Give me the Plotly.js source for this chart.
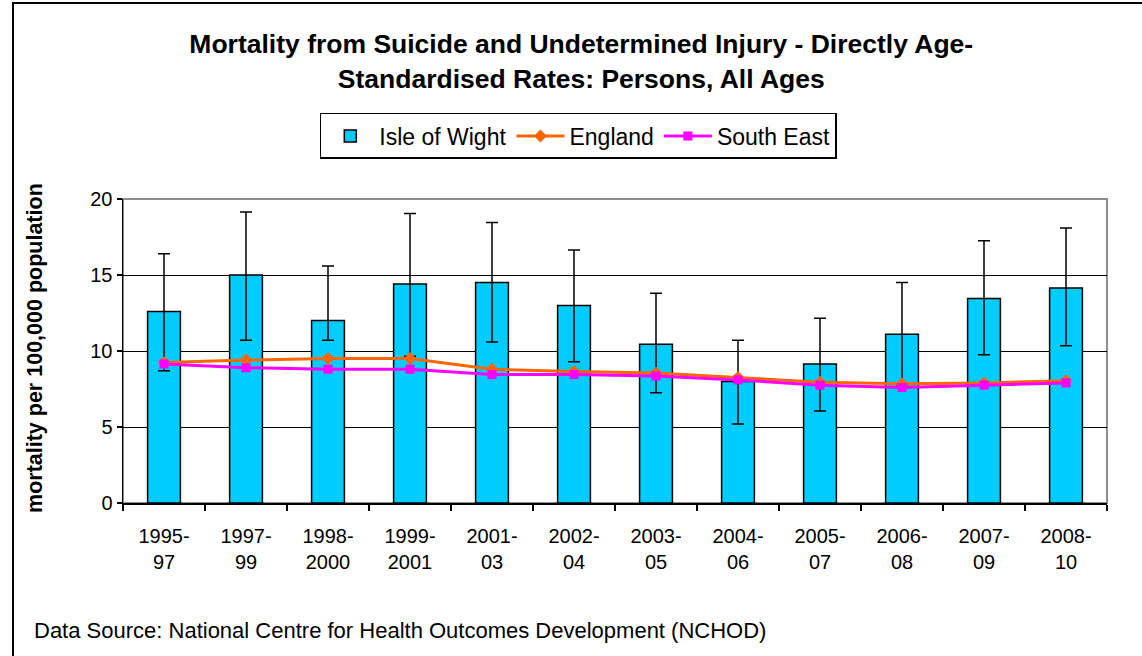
<!DOCTYPE html>
<html>
<head>
<meta charset="utf-8">
<script src="https://cdn.plot.ly/plotly-3.0.1.min.js"></script>
<style>
  html, body { margin: 0; padding: 0; background: #fff; }
  #wrap { position: relative; width: 1142px; height: 656px; overflow: hidden; }
  #chart { width: 1142px; height: 656px; }
  #frame { position: absolute; left: 12px; top: 2px; width: 1200px; height: 700px;
           border-left: 2px solid #000; border-top: 2px solid #000; pointer-events: none; }
</style>
</head>
<body>
<div id="wrap">
  <div id="chart"></div>
  <div id="frame"></div>
</div>
<script>
const periods = ["1995-<br>97", "1997-<br>99", "1998-<br>2000", "1999-<br>2001", "2001-<br>03", "2002-<br>04",
                 "2003-<br>05", "2004-<br>06", "2005-<br>07", "2006-<br>08", "2007-<br>09", "2008-<br>10"];
const iowRate  = [12.6, 15.0, 12.0, 14.4, 14.5, 13.0, 10.45, 8.0, 9.15, 11.1, 13.45, 14.15];
const iowUpper = [16.4, 19.15, 15.6, 19.05, 18.45, 16.65, 13.8, 10.7, 12.15, 14.5, 17.25, 18.1];
const iowLower = [8.7, 10.7, 10.7, 9.65, 10.6, 9.3, 7.25, 5.2, 6.05, 7.7, 9.75, 10.35];
const englandRate   = [9.25, 9.4, 9.5, 9.5, 8.8, 8.65, 8.55, 8.25, 7.95, 7.85, 7.9, 8.05];
const southEastRate = [9.15, 8.9, 8.8, 8.8, 8.45, 8.45, 8.35, 8.1, 7.75, 7.6, 7.75, 7.9];
const yTicks = [0, 5, 10, 15, 20];

const errPlus  = iowUpper.map((u, i) => u - iowRate[i]);
const errMinus = iowRate.map((v, i) => v - iowLower[i]);

const FONT = "Liberation Sans, Arial, sans-serif";

const traces = [
  {
    type: "bar", name: "Isle of Wight", x: periods, y: iowRate,
    marker: { color: "#00CCFF", line: { color: "#000", width: 1.5 } },
    error_y: { type: "data", symmetric: false, array: errPlus, arrayminus: errMinus,
               color: "#000", thickness: 1.5, width: 6 }
  },
  {
    type: "scatter", mode: "lines+markers", name: "England", x: periods, y: englandRate,
    line: { color: "#FF6600", width: 3 },
    marker: { symbol: "diamond", size: 10, color: "#FF6600" }
  },
  {
    type: "scatter", mode: "lines+markers", name: "South East", x: periods, y: southEastRate,
    line: { color: "#FF00FF", width: 3 },
    marker: { symbol: "square", size: 9, color: "#FF00FF" }
  }
];

const layout = {
  width: 1142, height: 656,
  margin: { l: 123, r: 35, t: 199, b: 153 },
  paper_bgcolor: "#fff", plot_bgcolor: "#fff",
  font: { family: FONT, size: 20, color: "#000" },
  showlegend: true,
  bargap: 0.6,
  title: {
    text: "<b>Mortality from Suicide and Undetermined Injury - Directly Age-<br>Standardised Rates: Persons, All Ages</b>",
    font: { family: FONT, size: 26.5, color: "#000" },
    x: 0.509, xanchor: "center", xref: "container",
    y: 0.919, yanchor: "middle", yref: "container"
  },
  legend: {
    orientation: "h", x: 0.2, xanchor: "left", y: 1.283, yanchor: "top",
    bordercolor: "#000", borderwidth: 1.5, bgcolor: "#fff",
    font: { family: FONT, size: 23, color: "#000" },
    itemwidth: 48, traceorder: "normal"
  },
  xaxis: {
    type: "category", range: [-0.5, 11.5], autorange: false,
    showgrid: false, showline: true, linecolor: "#000", linewidth: 1.5,
    ticks: "outside", tickson: "boundaries", ticklen: 6, tickcolor: "#000", tickwidth: 1.5,
    tickfont: { family: FONT, size: 20, color: "#000" },
    ticklabelstandoff: 14
  },
  yaxis: {
    range: [0, 20], tickvals: yTicks, ticktext: yTicks.map(String),
    showgrid: true, gridcolor: "#000", gridwidth: 1,
    showline: true, linecolor: "#000", linewidth: 1.5, zeroline: false,
    ticks: "outside", ticklen: 5, tickcolor: "#000", tickwidth: 1.5,
    tickfont: { family: FONT, size: 20, color: "#000" }
  },
  shapes: [
    { type: "rect", xref: "paper", yref: "paper", x0: 0, x1: 1, y0: 0, y1: 1,
      line: { color: "#8c8c8c", width: 2 }, layer: "below" }
  ],
  annotations: [
    { text: "<b>mortality per 100,000 population</b>", xref: "paper", yref: "paper",
      x: -0.0894, y: 0.51, xanchor: "center", yanchor: "middle", textangle: -90,
      showarrow: false, font: { family: FONT, size: 21.5, color: "#000" } },
    { text: "Data Source: National Centre for Health Outcomes Development (NCHOD)",
      xref: "paper", yref: "paper", x: -0.0924, y: -0.418, xanchor: "left", yanchor: "middle",
      showarrow: false, font: { family: FONT, size: 22, color: "#000" } }
  ]
};

Plotly.newPlot("chart", traces, layout, { displayModeBar: false, staticPlot: true });
</script>
</body>
</html>
